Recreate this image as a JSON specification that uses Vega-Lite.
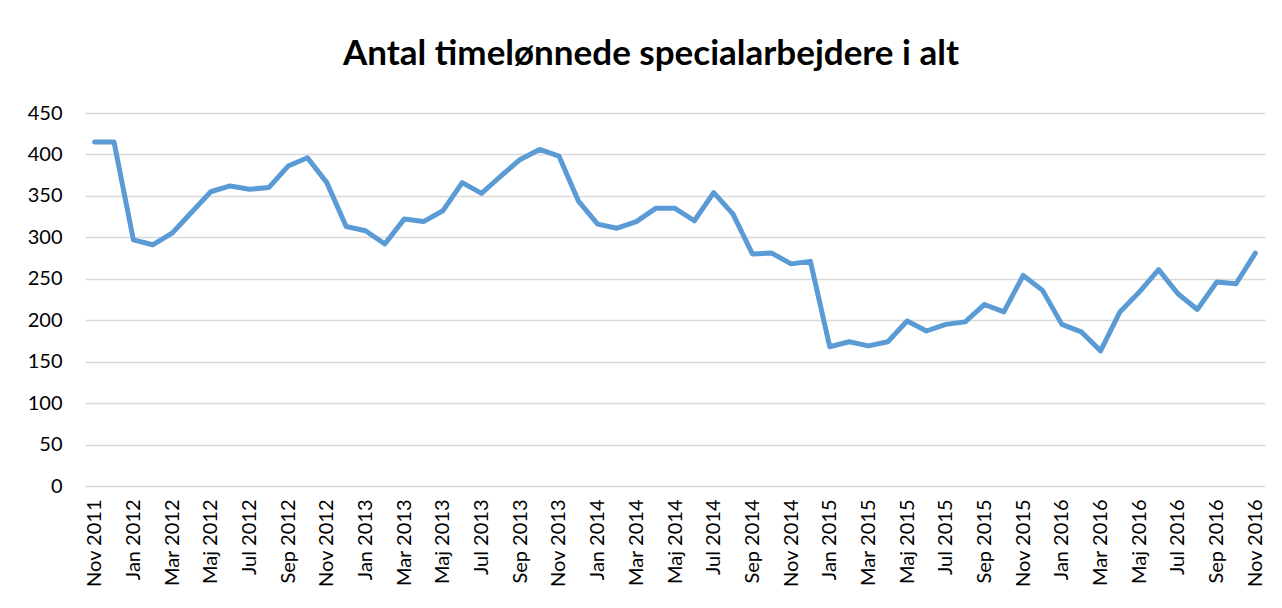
{
  "$schema": "https://vega.github.io/schema/vega-lite/v6.json",
  "autosize": {"type": "none"},
  "width": 1180,
  "height": 373,
  "padding": {"left": 85, "top": 113, "right": 17, "bottom": 122},
  "background": "white",
  "title": {
    "text": "Antal timelønnede specialarbejdere i alt",
    "font": "Lato",
    "fontSize": 35,
    "fontWeight": "bold",
    "color": "#000000",
    "anchor": "middle",
    "offset": 31,
    "dx": -24
  },
  "data": {
    "values": [
      {"m": "Nov 2011", "v": 415},
      {"m": "Dec 2011", "v": 415},
      {"m": "Jan 2012", "v": 297},
      {"m": "Feb 2012", "v": 291},
      {"m": "Mar 2012", "v": 305},
      {"m": "Apr 2012", "v": 330},
      {"m": "Maj 2012", "v": 355},
      {"m": "Jun 2012", "v": 362},
      {"m": "Jul 2012", "v": 358},
      {"m": "Aug 2012", "v": 360},
      {"m": "Sep 2012", "v": 386},
      {"m": "Okt 2012", "v": 396},
      {"m": "Nov 2012", "v": 366},
      {"m": "Dec 2012", "v": 313},
      {"m": "Jan 2013", "v": 308},
      {"m": "Feb 2013", "v": 292},
      {"m": "Mar 2013", "v": 322},
      {"m": "Apr 2013", "v": 319},
      {"m": "Maj 2013", "v": 332},
      {"m": "Jun 2013", "v": 366},
      {"m": "Jul 2013", "v": 353},
      {"m": "Aug 2013", "v": 374},
      {"m": "Sep 2013", "v": 394},
      {"m": "Okt 2013", "v": 406},
      {"m": "Nov 2013", "v": 398},
      {"m": "Dec 2013", "v": 344},
      {"m": "Jan 2014", "v": 316},
      {"m": "Feb 2014", "v": 311},
      {"m": "Mar 2014", "v": 319},
      {"m": "Apr 2014", "v": 335},
      {"m": "Maj 2014", "v": 335},
      {"m": "Jun 2014", "v": 320},
      {"m": "Jul 2014", "v": 354},
      {"m": "Aug 2014", "v": 328},
      {"m": "Sep 2014", "v": 280},
      {"m": "Okt 2014", "v": 281},
      {"m": "Nov 2014", "v": 268},
      {"m": "Dec 2014", "v": 271},
      {"m": "Jan 2015", "v": 168},
      {"m": "Feb 2015", "v": 174},
      {"m": "Mar 2015", "v": 169},
      {"m": "Apr 2015", "v": 174},
      {"m": "Maj 2015", "v": 199},
      {"m": "Jun 2015", "v": 187},
      {"m": "Jul 2015", "v": 195},
      {"m": "Aug 2015", "v": 198},
      {"m": "Sep 2015", "v": 219},
      {"m": "Okt 2015", "v": 210},
      {"m": "Nov 2015", "v": 254},
      {"m": "Dec 2015", "v": 236},
      {"m": "Jan 2016", "v": 195},
      {"m": "Feb 2016", "v": 186},
      {"m": "Mar 2016", "v": 163},
      {"m": "Apr 2016", "v": 210},
      {"m": "Maj 2016", "v": 234},
      {"m": "Jun 2016", "v": 261},
      {"m": "Jul 2016", "v": 232},
      {"m": "Aug 2016", "v": 213},
      {"m": "Sep 2016", "v": 246},
      {"m": "Okt 2016", "v": 244},
      {"m": "Nov 2016", "v": 281}
    ]
  },
  "mark": {
    "type": "line",
    "color": "#5b9bd5",
    "strokeWidth": 5,
    "strokeCap": "round",
    "strokeJoin": "round"
  },
  "encoding": {
    "x": {
      "field": "m",
      "type": "nominal",
      "sort": null,
      "scale": {"type": "point", "padding": 0.5},
      "axis": {
        "title": null,
        "values": ["Nov 2011", "Jan 2012", "Mar 2012", "Maj 2012", "Jul 2012", "Sep 2012", "Nov 2012", "Jan 2013", "Mar 2013", "Maj 2013", "Jul 2013", "Sep 2013", "Nov 2013", "Jan 2014", "Mar 2014", "Maj 2014", "Jul 2014", "Sep 2014", "Nov 2014", "Jan 2015", "Mar 2015", "Maj 2015", "Jul 2015", "Sep 2015", "Nov 2015", "Jan 2016", "Mar 2016", "Maj 2016", "Jul 2016", "Sep 2016", "Nov 2016"],
        "labelAngle": -90,
        "labelAlign": "right",
        "labelBaseline": "middle",
        "labelPadding": 13,
        "labelFont": "Lato",
        "labelFontSize": 20,
        "labelColor": "#000000",
        "labelOverlap": false,
        "ticks": false,
        "domain": false,
        "grid": false
      }
    },
    "y": {
      "field": "v",
      "type": "quantitative",
      "scale": {"domain": [0, 450], "nice": false},
      "axis": {
        "title": null,
        "values": [0, 50, 100, 150, 200, 250, 300, 350, 400, 450],
        "labelFont": "Lato",
        "labelFontSize": 20,
        "labelColor": "#000000",
        "labelPadding": 23,
        "ticks": false,
        "domain": false,
        "grid": true,
        "gridColor": "#d9d9d9",
        "gridWidth": 1.4
      }
    }
  },
  "config": {"view": {"stroke": null}}
}
